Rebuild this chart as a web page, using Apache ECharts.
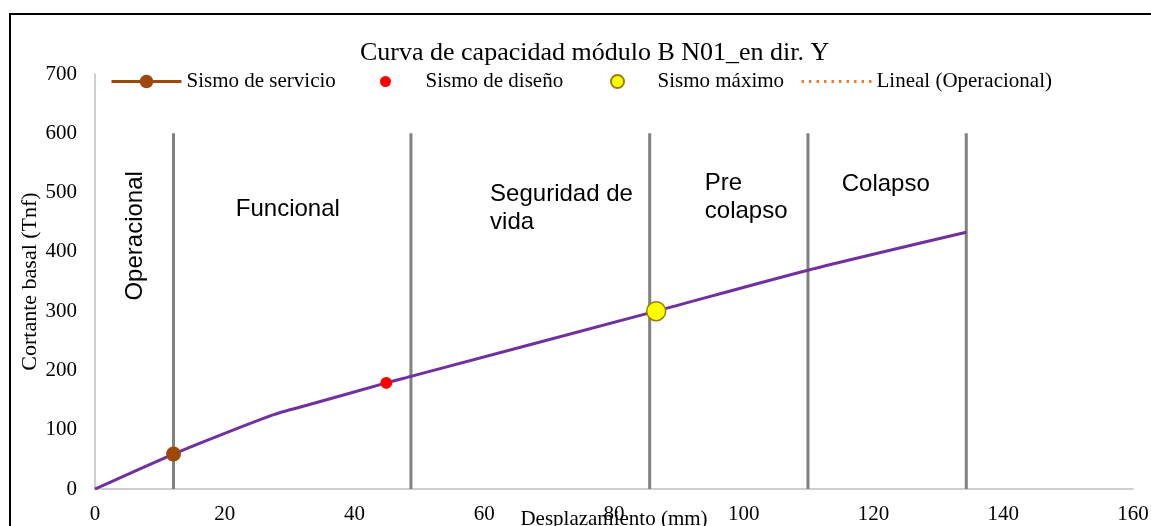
<!DOCTYPE html>
<html><head><meta charset="utf-8">
<script src="https://cdn.jsdelivr.net/npm/echarts@6/dist/echarts.min.js"></script>
<style>html,body{margin:0;padding:0;background:#fff}#c{width:1151px;height:526px}</style>
</head><body><div id="c"></div>
<script>
// Capacity curve (displacement mm, base shear Tnf)
const curveX = [0, 12.1, 20, 27.7, 33.9, 44.9, 48.7, 86.5, 109.9, 134.3];
const curveY = [0, 59, 94, 126, 145, 179, 190, 300, 369, 433];
const servicio = [[12.1, 59]];
const diseno = [[44.9, 179]];
const maximo = [[86.5, 300]];
const linealX = [0, 12.1];
const linealY = [0, 59];
const limitsX = [12.1, 48.7, 85.5, 109.9, 134.3];
const limitTop = 600;
const zoneNames = ['Operacional', 'Funcional', 'Seguridad de\nvida', 'Pre\ncolapso', 'Colapso'];
const zoneX = [6.2, 21.7, 60.9, 94.0, 115.1];
const zoneY = [427, 472, 474, 492, 514];
const xTicks = [0, 20, 40, 60, 80, 100, 120, 140, 160];
const yTicks = [0, 100, 200, 300, 400, 500, 600, 700];

const serif = '"Liberation Serif","Times New Roman",serif';
const sans = '"Liberation Sans",Arial,sans-serif';

const series = [];
limitsX.forEach((x, i) => {
  series.push({
    type: 'line', name: 'lim' + i, data: [[x, 0], [x, limitTop]],
    symbol: 'none', lineStyle: { color: '#808080', width: 3 }, z: 1, silent: true
  });
});
series.push({
  type: 'line', name: 'Lineal (Operacional)', data: linealX.map((x, i) => [x, linealY[i]]),
  symbol: 'none', lineStyle: { color: '#ED7D31', width: 2.5, type: [2.5, 5] }, itemStyle: { color: '#ED7D31' }, z: 2
});
series.push({
  type: 'line', name: 'curve', data: curveX.map((x, i) => [x, curveY[i]]),
  symbol: 'none', smooth: 0.25, lineStyle: { color: '#7030A0', width: 3 }, z: 3
});
series.push({
  type: 'line', name: 'Sismo de servicio', data: servicio, symbol: 'circle', symbolSize: 15,
  itemStyle: { color: '#9E480E' }, lineStyle: { color: '#9E480E', width: 3 }, z: 5
});
series.push({
  type: 'scatter', name: 'Sismo de diseño', data: diseno, symbol: 'circle', symbolSize: 12,
  itemStyle: { color: '#FF0000', opacity: 1 }, z: 5
});
series.push({
  type: 'scatter', name: 'Sismo máximo', data: maximo, symbol: 'circle', symbolSize: 19,
  itemStyle: { color: '#FFFF00', borderColor: '#9C7C00', borderWidth: 1.5, opacity: 1 }, z: 5
});

const legTxt = { fontFamily: serif, fontSize: 21, color: '#000' };
const legTop = 71;
const chart = echarts.init(document.getElementById('c'));
chart.setOption({
  animation: false,
  backgroundColor: '#fff',
  title: { text: 'Curva de capacidad módulo B N01_en dir. Y', left: 355, top: 35,
    textStyle: { fontFamily: serif, fontSize: 26, fontWeight: 'normal', color: '#000' } },
  legend: [
    { left: 110, top: legTop, padding: 0, itemWidth: 70, itemHeight: 17, textStyle: legTxt,
      data: [{ name: 'Sismo de servicio', lineStyle: { width: 3 } }] },
    { left: 380, top: legTop, padding: 0, itemWidth: 70, itemHeight: 11, textStyle: legTxt,
      data: [{ name: 'Sismo de diseño' }] },
    { left: 610, top: legTop, padding: 0, itemWidth: 70, itemHeight: 13, textStyle: legTxt,
      data: [{ name: 'Sismo máximo' }] },
    { left: 800, top: legTop, padding: 0, itemWidth: 70, itemHeight: 13, textStyle: legTxt,
      data: [{ name: 'Lineal (Operacional)', itemStyle: { color: 'rgba(0,0,0,0)', borderWidth: 0 }, lineStyle: { width: 3 } }] }
  ],
  grid: { left: 95, right: 18, top: 74, bottom: 37, containLabel: false, outerBoundsMode: 'none' },
  xAxis: {
    type: 'value', min: 0, max: 160, interval: 20,
    name: 'Desplazamiento (mm)', nameLocation: 'middle', nameGap: 20, nameMoveOverlap: false,
    nameTextStyle: { fontFamily: serif, fontSize: 21, color: '#000' },
    axisLine: { show: true, lineStyle: { color: '#BFBFBF', width: 1.5 } },
    axisTick: { show: false }, splitLine: { show: false },
    axisLabel: { fontFamily: serif, fontSize: 21, color: '#000', margin: 15,
      formatter: v => xTicks.includes(v) ? String(v) : '' }
  },
  yAxis: {
    type: 'value', min: 0, max: 700, interval: 100,
    name: 'Cortante basal (Tnf)', nameLocation: 'middle', nameGap: 54, nameMoveOverlap: false,
    nameTextStyle: { fontFamily: serif, fontSize: 22, color: '#000' },
    axisLine: { show: true, lineStyle: { color: '#BFBFBF', width: 1.5 } },
    axisTick: { show: false }, splitLine: { show: false },
    axisLabel: { fontFamily: serif, fontSize: 21, color: '#000', margin: 18,
      formatter: v => yTicks.includes(v) ? String(v) : '' }
  },
  series: series
});

// zone labels and outer frame, positioned through the chart's own coordinate system
const graphics = zoneNames.map((name, i) => {
  const p = chart.convertToPixel({ gridIndex: 0 }, [zoneX[i], zoneY[i]]);
  return {
    type: 'text', x: p[0], y: p[1], rotation: i === 0 ? Math.PI / 2 : 0, silent: true, z: 50,
    style: { text: name, fill: '#000', font: '24px "Liberation Sans", Arial, sans-serif',
      lineHeight: 28, align: i === 0 ? 'center' : 'left', verticalAlign: 'middle' }
  };
});
graphics.push({ type: 'rect', shape: { x: 10, y: 14, width: 1300, height: 700 },
  style: { fill: null, stroke: '#000', lineWidth: 2 }, z: 100, silent: true });
chart.setOption({ graphic: graphics });
</script></body></html>
